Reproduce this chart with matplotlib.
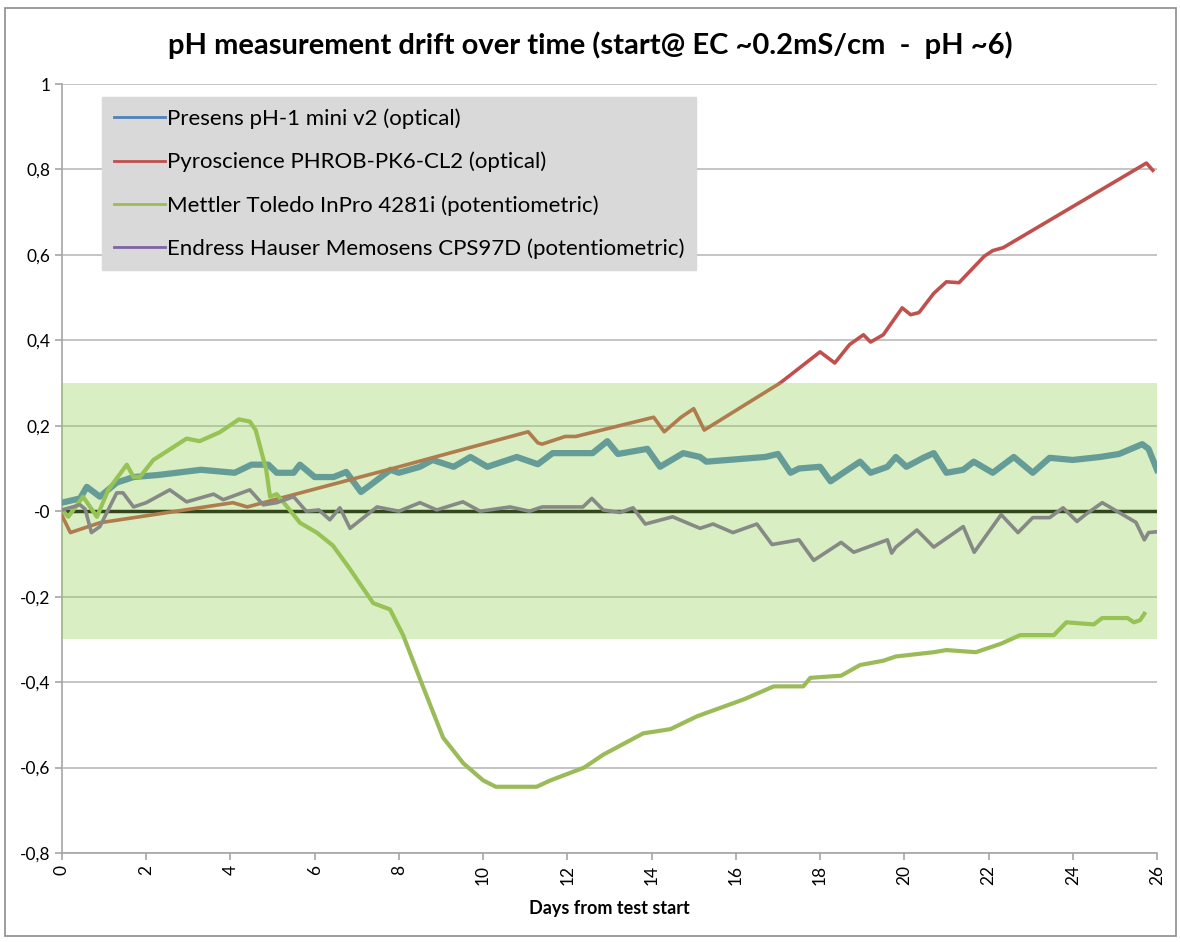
import numpy as np
import matplotlib.pyplot as plt
from matplotlib.patches import Rectangle
from matplotlib.ticker import FuncFormatter

# digitised (day, pH drift) points
presens_days = [0, 0.43, 0.59, 0.9, 1.3, 1.7, 2.3, 3.3, 4.1, 4.5, 4.9, 5.1, 5.5, 5.65, 6.0,
                6.45, 6.75, 7.1, 7.4, 7.8, 8.0, 8.5, 8.8, 9.3, 9.7, 10.1, 10.8, 11.3, 11.65,
                12.6, 12.95, 13.2, 13.9, 14.2, 14.75, 15.15, 15.3, 16.7, 17.0, 17.3, 17.5,
                18.0, 18.25, 18.55, 18.95, 19.2, 19.6, 19.8, 20.05, 20.45, 20.7, 21.0, 21.4,
                21.65, 22.1, 22.6, 23.05, 23.45, 24.0, 24.65, 25.1, 25.65, 25.8, 26.0]
presens_vals = [0.02, 0.03, 0.057, 0.034, 0.067, 0.08, 0.085, 0.097, 0.09, 0.109, 0.109, 0.09,
                0.09, 0.109, 0.08, 0.08, 0.092, 0.045, 0.067, 0.097, 0.09, 0.104, 0.12, 0.104,
                0.127, 0.104, 0.127, 0.11, 0.136, 0.136, 0.164, 0.134, 0.146, 0.104, 0.136,
                0.127, 0.116, 0.127, 0.134, 0.09, 0.1, 0.104, 0.07, 0.09, 0.116, 0.09, 0.104,
                0.127, 0.104, 0.125, 0.136, 0.09, 0.097, 0.116, 0.09, 0.127, 0.09, 0.125,
                0.12, 0.127, 0.134, 0.157, 0.146, 0.097]

pyro_days = [0, 0.2, 0.9, 4.06, 4.4, 8.0, 11.07, 11.3, 11.4, 11.95, 12.2, 14.05, 14.3, 14.7,
             15.0, 15.25, 17.05, 18.0, 18.35, 18.7, 19.03, 19.2, 19.5, 19.95, 20.15, 20.35,
             20.7, 21.0, 21.3, 21.9, 22.1, 22.35, 25.75, 25.9]
pyro_vals = [-0.01, -0.05, -0.027, 0.02, 0.01, 0.104, 0.186, 0.16, 0.157, 0.175, 0.175, 0.22,
             0.186, 0.22, 0.24, 0.19, 0.3, 0.373, 0.347, 0.39, 0.413, 0.396, 0.413, 0.476,
             0.46, 0.465, 0.51, 0.537, 0.535, 0.597, 0.61, 0.617, 0.815, 0.798]

mettler_days = [0, 0.15, 0.5, 0.83, 1.1, 1.54, 1.7, 1.85, 2.17, 2.96, 3.27, 3.75, 4.2, 4.46,
                4.6, 4.85, 4.94, 5.1, 5.35, 5.65, 6.05, 6.43, 6.8, 7.39, 7.79, 8.1, 8.57,
                9.05, 9.53, 10.0, 10.3, 11.27, 11.6, 12.4, 12.85, 13.8, 14.45, 15.08, 16.2,
                16.9, 17.6, 17.77, 18.5, 18.95, 19.5, 19.8, 20.7, 21.0, 21.7, 22.3, 22.75,
                23.55, 23.85, 24.5, 24.7, 25.3, 25.45, 25.6, 25.7]
mettler_vals = [0.003, -0.013, 0.034, -0.013, 0.05, 0.109, 0.08, 0.08, 0.12, 0.17, 0.164,
                0.185, 0.215, 0.21, 0.19, 0.097, 0.034, 0.04, 0.01, -0.027, -0.05, -0.08,
                -0.13, -0.215, -0.23, -0.29, -0.41, -0.53, -0.59, -0.63, -0.645, -0.645,
                -0.63, -0.6, -0.57, -0.52, -0.51, -0.48, -0.44, -0.41, -0.41, -0.39, -0.385,
                -0.36, -0.35, -0.34, -0.33, -0.325, -0.33, -0.31, -0.29, -0.29, -0.26, -0.265,
                -0.25, -0.25, -0.26, -0.255, -0.24]

endress_days = [0, 0.43, 0.55, 0.7, 0.9, 1.3, 1.45, 1.7, 2.0, 2.56, 2.96, 3.6, 3.83, 4.46,
                4.78, 5.1, 5.5, 5.8, 6.1, 6.36, 6.6, 6.84, 7.48, 8.0, 8.5, 8.9, 9.52, 9.93,
                10.64, 11.1, 11.4, 12.37, 12.58, 12.85, 13.25, 13.56, 13.85, 14.5, 15.15,
                15.46, 15.93, 16.5, 16.86, 17.5, 17.85, 18.5, 18.8, 19.6, 19.7, 19.8, 20.3,
                20.7, 21.4, 21.66, 22.3, 22.7, 23.05, 23.45, 23.77, 24.1, 24.3, 24.7, 25.1,
                25.5, 25.7, 25.8, 26.0]
endress_vals = [0.003, 0.015, 0.005, -0.05, -0.036, 0.043, 0.043, 0.01, 0.02, 0.05, 0.022,
                0.04, 0.027, 0.05, 0.015, 0.02, 0.034, 0.0, 0.003, -0.02, 0.008, -0.04, 0.01,
                0.0, 0.02, 0.003, 0.022, 0.0, 0.01, 0.0, 0.01, 0.01, 0.03, 0.003, -0.003,
                0.008, -0.03, -0.013, -0.04, -0.03, -0.05, -0.03, -0.078, -0.067, -0.115,
                -0.073, -0.096, -0.067, -0.098, -0.084, -0.044, -0.084, -0.036, -0.096,
                -0.008, -0.05, -0.015, -0.015, 0.008, -0.024, -0.008, 0.02, -0.003, -0.026,
                -0.067, -0.05, -0.048]

labels = ['Presens pH-1 mini v2 (optical)',
          'Pyroscience PHROB-PK6-CL2 (optical)',
          'Mettler Toledo InPro 4281i (potentiometric)',
          'Endress Hauser Memosens CPS97D (potentiometric)']
colors = ['#4f81bd', '#c0504d', '#9bbb59', '#8064a2']
band = (-0.3, 0.3)

plt.rcParams['font.family'] = ['Lato', 'DejaVu Sans']

fig = plt.figure(figsize=(11.8, 9.42), dpi=100)
ax = fig.add_axes([0.0525, 0.0945, 0.928, 0.8163])

ax.plot(presens_days, presens_vals, color=colors[0], lw=4.5, label=labels[0], zorder=3)
ax.plot(pyro_days, pyro_vals, color=colors[1], lw=2.6, label=labels[1], zorder=3)
ax.plot(mettler_days, mettler_vals, color=colors[2], lw=3, label=labels[2], zorder=3)
ax.plot(endress_days, endress_vals, color=colors[3], lw=2.6, label=labels[3], zorder=3)
ax.axhline(0, color='black', lw=2.5, zorder=2)
# tolerance band laid over the curves, like the original
ax.axhspan(band[0], band[1], color='#92d050', alpha=0.35, lw=0, zorder=4)

ax.set_xlim(0, 26)
ax.set_ylim(-0.8, 1.0)
ax.set_xticks(np.arange(0, 27, 2))
ax.set_yticks(np.arange(-0.8, 1.01, 0.2))
ax.yaxis.set_major_formatter(FuncFormatter(
    lambda v, p: ('%g' % round(v, 1)).replace('.', ',')))
ax.grid(axis='y', color='#bfbfbf', lw=1.3, zorder=0)
for s in ['top', 'right']:
    ax.spines[s].set_visible(False)
for s in ['left', 'bottom']:
    ax.spines[s].set_color('#a6a6a6')
    ax.spines[s].set_linewidth(1.2)
ax.tick_params(axis='both', colors='#a6a6a6', length=5, width=1.2, labelcolor='black',
               labelsize=12.5)
ax.tick_params(axis='x', labelrotation=90)
ax.set_xlabel('Days from test start', fontsize=13, fontweight='bold', labelpad=11)

leg = ax.legend(loc='upper left', bbox_to_anchor=(0.037, 0.983), fontsize=16,
                frameon=True, fancybox=False, handlelength=2.3, handletextpad=0.1,
                labelspacing=1.03, borderpad=0.5, borderaxespad=0)
leg.get_frame().set_facecolor('#d9d9d9')
leg.get_frame().set_edgecolor('#d9d9d9')
leg.get_frame().set_alpha(1)
for h in leg.get_lines():
    h.set_linewidth(2)
leg.set_zorder(6)

fig.text(0.5, 0.952, 'pH measurement drift over time (start@ EC ~0.2mS/cm  -  pH ~6)',
         ha='center', va='center', fontsize=21, fontweight='bold')
fig.patches.append(Rectangle((0.004, 0.006), 0.993, 0.986, transform=fig.transFigure,
                             fill=False, edgecolor='#8c8c8c', lw=1.2))

fig.savefig('out.png', dpi=100)
